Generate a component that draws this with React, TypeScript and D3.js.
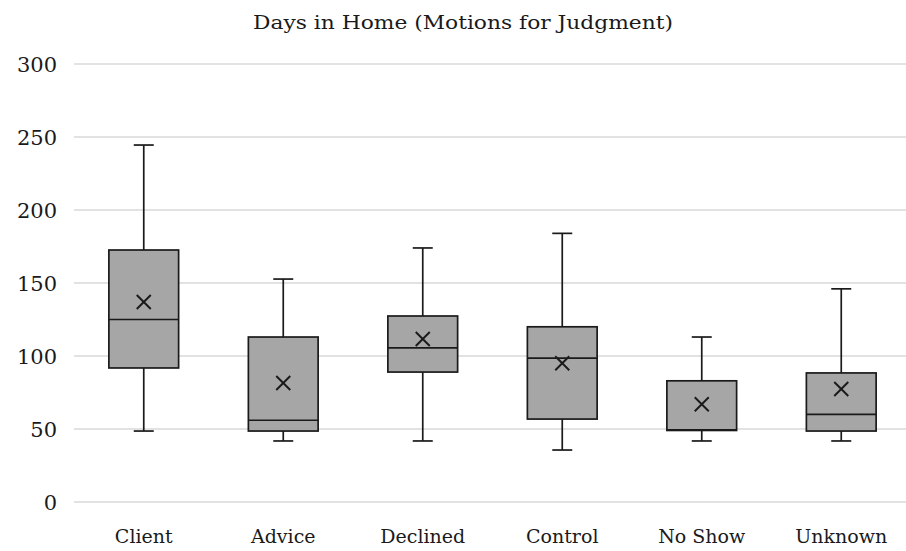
import * as d3 from "d3";

const width = 906;
const height = 551;
const marginTop = 64;
const marginBottom = 49;
const marginLeft = 74;
const plotRight = 911;

const categories = ["Client", "Advice", "Declined", "Control", "No Show", "Unknown"];
const whiskerLow = [48.6, 41.8, 41.8, 35.6, 41.8, 41.8];
const q1 = [91.8, 48.6, 89, 56.8, 49, 48.6];
const median = [125, 56, 105.5, 98.6, 49.5, 60];
const q3 = [172.6, 113, 127.4, 120, 83, 88.4];
const whiskerHigh = [244.5, 152.7, 174, 184, 113, 146];
const mean = [137, 81.5, 111.6, 95, 67, 77.4];
const yTicks = [0, 50, 100, 150, 200, 250, 300];

const font = "'DejaVu Serif', 'Liberation Serif', serif";
const ink = "#1a1a1a";

const App = () => {
  const x = d3.scaleBand().domain(categories).range([marginLeft, plotRight]).padding(0);
  const y = d3.scaleLinear().domain([0, 300]).range([height - marginBottom, marginTop]);

  const boxW = x.bandwidth() * 0.5;
  const capW = 20;
  const mk = 7;

  return (
    <svg
      width={width}
      height={height}
      viewBox={`0 0 ${width} ${height}`}
      style={{ position: "absolute", left: 0, top: 0, background: "#fff" }}
    >
      <text x={463} y={29} textAnchor="middle" fontFamily={font} fontSize={18} fill={ink}
        textLength={420} lengthAdjust="spacingAndGlyphs">
        Days in Home (Motions for Judgment)
      </text>

      {yTicks.map((t) => (
        <g key={t}>
          <line x1={marginLeft} x2={width} y1={y(t)} y2={y(t)} stroke="#d9d9d9" strokeWidth={1.5} />
          <text
            x={57}
            y={y(t)}
            dy="0.36em"
            textAnchor="end"
            fontFamily={font}
            fontSize={21}
            fill={ink}
          >
            {t}
          </text>
        </g>
      ))}

      {categories.map((c, i) => {
        const cx = (x(c) as number) + x.bandwidth() / 2;
        const my = y(mean[i]);
        return (
          <g key={c} stroke={ink} strokeWidth={1.7}>
            <line x1={cx} x2={cx} y1={y(whiskerHigh[i])} y2={y(q3[i])} />
            <line x1={cx} x2={cx} y1={y(q1[i])} y2={y(whiskerLow[i])} />
            <line x1={cx - capW / 2} x2={cx + capW / 2} y1={y(whiskerHigh[i])} y2={y(whiskerHigh[i])} />
            <line x1={cx - capW / 2} x2={cx + capW / 2} y1={y(whiskerLow[i])} y2={y(whiskerLow[i])} />
            <rect
              x={cx - boxW / 2}
              y={y(q3[i])}
              width={boxW}
              height={y(q1[i]) - y(q3[i])}
              fill="#a6a6a6"
            />
            <line x1={cx - boxW / 2} x2={cx + boxW / 2} y1={y(median[i])} y2={y(median[i])} />
            <line x1={cx - mk} x2={cx + mk} y1={my - mk} y2={my + mk} strokeWidth={2} />
            <line x1={cx - mk} x2={cx + mk} y1={my + mk} y2={my - mk} strokeWidth={2} />
            <text
              x={cx}
              y={543}
              textAnchor="middle"
              fontFamily={font}
              fontSize={19}
              fill={ink}
              stroke="none"
            >
              {c}
            </text>
          </g>
        );
      })}
    </svg>
  );
};

export default App;
